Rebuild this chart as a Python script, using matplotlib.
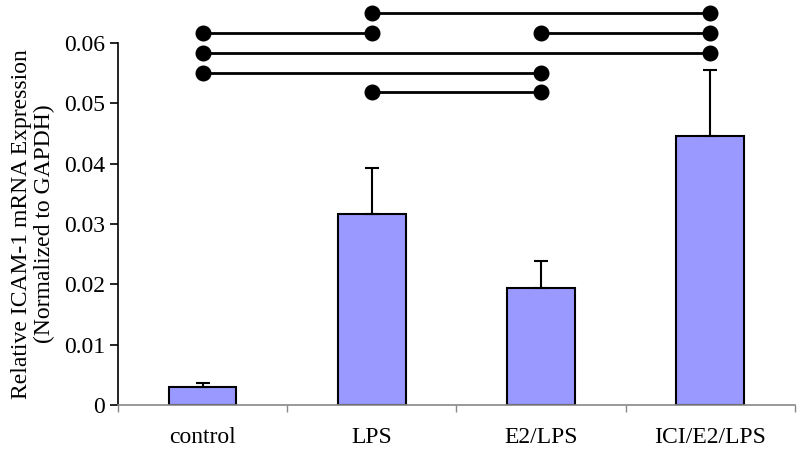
import matplotlib
matplotlib.use('Agg')
import matplotlib.pyplot as plt
import numpy as np

plt.rcParams['font.family'] = ['Liberation Serif', 'DejaVu Serif']

# data
categories = ['control', 'LPS', 'E2/LPS', 'ICI/E2/LPS']
means = [0.0030, 0.0317, 0.0194, 0.0446]
errors = [0.0007, 0.0076, 0.0044, 0.0109]

# significance brackets: (start category, end category, height)
sig_pairs = [(1, 3, 0.0650),
             (0, 1, 0.0617), (2, 3, 0.0617),
             (0, 3, 0.0584),
             (0, 2, 0.0551),
             (1, 2, 0.0519)]

fig = plt.figure(figsize=(8, 4.53), dpi=100)
ax = fig.add_axes([0.1475, 0.106, 0.846, 0.799])

x = np.arange(len(categories))
ax.bar(x, means, width=0.4, color='#9999FF', edgecolor='black', linewidth=1.5, zorder=2)
ax.errorbar(x, means, yerr=[np.zeros(len(errors)), errors], fmt='none',
            ecolor='black', elinewidth=1.5, capsize=5, capthick=1.5, zorder=3)

# significance lines with round ends
for a, b, h in sig_pairs:
    ax.plot([a, b], [h, h], color='black', lw=2, marker='o', markersize=10.5,
            clip_on=False, zorder=4)

ax.set_xlim(-0.5, len(categories) - 0.5)
ax.set_ylim(0, 0.06)
ax.set_yticks(np.arange(0, 0.061, 0.01))
ax.set_yticklabels(['0', '0.01', '0.02', '0.03', '0.04', '0.05', '0.06'], fontsize=17)
ax.set_xticks(x)
ax.set_xticklabels(categories, fontsize=17)
ax.tick_params(axis='x', length=0, pad=16)
ax.set_xticks(np.arange(-0.5, len(categories), 1.0), minor=True)
ax.tick_params(axis='x', which='minor', length=5, color='#888888', width=1)
ax.tick_params(axis='y', length=6, width=1.2, color='black')

ax.spines['top'].set_visible(False)
ax.spines['right'].set_visible(False)
ax.spines['left'].set_linewidth(1.2)
ax.spines['bottom'].set_color('#888888')
ax.spines['bottom'].set_linewidth(1.2)

ax.set_ylabel('Relative ICAM-1 mRNA Expression\n(Normalized to GAPDH)', fontsize=17,
              linespacing=1.15, labelpad=6)

fig.savefig('out.png', dpi=100)
